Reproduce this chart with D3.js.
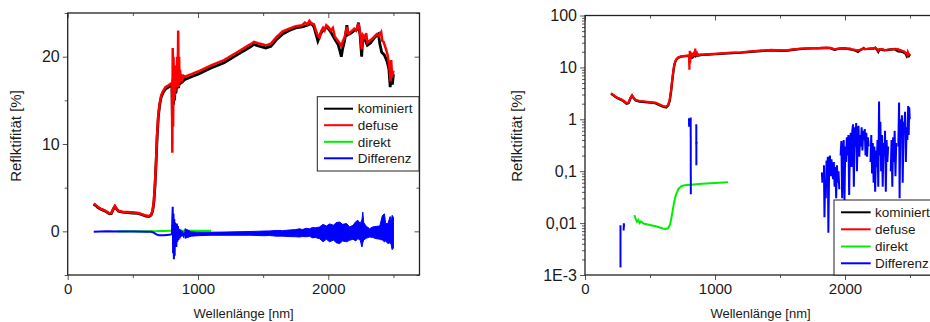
<!DOCTYPE html>
<meta charset="utf-8">
<style>
body { margin: 0; background: #fff; }
text { font-family: Arial, "Liberation Sans", sans-serif; fill: #1a1a1a; }
</style>
<body>
<svg id="chart" width="930" height="322"></svg>
<script src="https://cdn.jsdelivr.net/npm/d3@7"></script>
<script>

// ---- data ----
var seriesNames = ["kominiert", "defuse", "direkt", "Differenz"];
var seriesColors = ["#000000", "#ff0000", "#00ee00", "#0000ff"];

var xTicks = [0, 1000, 2000];
var xMinor = [500, 1500, 2500];
var linTicks = [0, 10, 20];
var linMinor = [-5, 5, 15, 25];
var logTicks = [100, 10, 1, 0.1, 0.01, 0.001];
var logLabels = ["100", "10", "1", "0,1", "0,01", "1E-3"];

// defuse [nm, %]
var defuse = [[200,3.2],[215,3.0],[230,2.8],[250,2.6],[275,2.45],[300,2.25],[320,2.05],[335,2.1],[350,2.6],[362,2.9],[375,2.6],[390,2.35],
  [420,2.25],[460,2.2],[500,2.15],[540,2.1],[570,1.95],[600,1.8],[625,1.75],[640,1.9],[652,2.4],[662,3.6],[670,5.5],[678,8],[686,11],
  [695,13.2],[705,14.6],[718,15.6],[733,16.1],[750,16.5],[771,16.7],[790,16.9],[800,17.0],[803,9.0],[806,21],[809,12],[812,20],[815,15],
  [818,18.5],[821,15.5],[824,19],[827,16],[830,18],[835,16.5],[840,20],[844,17],[848,23],[851,16.5],[855,20],[858,17],[862,18.5],[866,17.2],
  [870,18],[880,17.4],[890,17.8],[900,17.7],[950,18.0],[1000,18.3],[1100,19.0],[1200,19.6],[1300,20.5],[1400,21.4],[1430,21.7],[1470,21.5],
  [1520,21.3],[1560,21.5],[1600,22.2],[1650,22.9],[1700,23.2],[1750,23.5],[1800,23.6],[1820,23.9],[1840,23.7],[1855,24.1],[1870,23.8],
  [1890,23.7],[1905,23.0],[1920,22.4],[1933,22.2],[1945,22.9],[1960,23.3],[1972,23.0],[1985,23.6],[2000,23.4],[2020,23.0],[2035,23.3],
  [2050,22.3],[2065,22.0],[2075,21.8],[2090,21.5],[2100,21.2],[2112,21.8],[2125,22.2],[2143,23.4],[2155,22.6],[2176,22.9],[2200,23.2],
  [2214,23.0],[2232,23.8],[2245,22.6],[2256,20.9],[2265,22.5],[2280,22.2],[2291,22.7],[2300,21.6],[2325,21.9],[2342,22.1],[2360,22.4],
  [2375,22.6],[2390,22.4],[2406,22.8],[2415,21.8],[2424,21.7],[2444,20.8],[2455,20.2],[2464,19.3],[2472,18.4],[2478,17.2],[2483,19.6],
  [2490,17.6],[2500,18.4]];

// kominiert [nm, %]
var kombi = [[200,3.1],[215,2.95],[230,2.75],[250,2.55],[275,2.4],[300,2.2],[320,2.0],[335,2.05],[350,2.55],[362,2.85],[375,2.55],[390,2.3],
  [420,2.2],[460,2.15],[500,2.1],[540,2.05],[570,1.9],[600,1.75],[625,1.7],[640,1.85],[652,2.3],[662,3.4],[670,5.2],[678,7.7],[686,10.7],
  [695,13.0],[705,14.4],[718,15.4],[733,15.9],[750,16.3],[771,16.5],[790,16.7],[800,16.8],[804,12.3],[808,17.5],[812,14.5],[816,17.2],
  [820,15.0],[825,16.8],[830,15.8],[840,17.0],[850,16.4],[860,17.2],[870,17.0],[880,17.1],[900,17.4],[950,17.7],[1000,18.0],[1100,18.7],
  [1200,19.3],[1300,20.2],[1400,21.1],[1430,21.4],[1470,21.2],[1520,21.0],[1560,21.2],[1600,21.9],[1650,22.6],[1700,23.0],[1750,23.3],
  [1800,23.4],[1840,23.6],[1870,23.8],[1890,23.4],[1905,22.6],[1920,21.8],[1940,22.6],[1960,23.0],[1985,23.4],[2000,23.2],[2020,22.8],
  [2050,22.0],[2075,21.4],[2090,20.6],[2100,20.0],[2110,20.9],[2125,21.8],[2143,23.6],[2150,22.5],[2175,22.7],[2200,23.0],[2220,23.1],
  [2232,23.9],[2245,22.3],[2256,20.0],[2265,22.2],[2280,22.0],[2300,21.3],[2325,21.6],[2350,22.1],[2370,22.4],[2385,22.6],[2395,21.5],
  [2410,20.5],[2430,20.2],[2450,19.5],[2465,18.6],[2475,16.5],[2485,18.3],[2492,16.8],[2500,18.0]];

// direkt [nm, %]
var direkt = [[380,0.0142],[390,0.012],[400,0.0106],[410,0.0115],[420,0.0100],[430,0.0108],[450,0.0098],[500,0.0092],[550,0.0086],
  [600,0.0079],[620,0.0077],[640,0.0080],[655,0.0095],[668,0.014],[680,0.021],[693,0.031],[705,0.038],[720,0.046],[744,0.052],
  [780,0.054],[813,0.055],[900,0.057],[1000,0.059],[1100,0.061]];

// Differenz, linear panel: trace up to 950 nm, then mean + noise band
var diff = [[200,-0.05],[300,0],[400,-0.02],[500,-0.03],[600,-0.05],[640,-0.05],[660,-0.15],[680,-0.35],[700,-0.45],[740,-0.45],
  [780,-0.4],[800,-0.3],[803,1.5],[806,2.8],[809,-2.5],[812,2.0],[815,-3.2],[818,1.4],[821,-2.8],[824,1.0],[827,-1.6],[830,0.8],
  [834,-1.8],[838,0.9],[842,-1.2],[846,0.6],[850,-1.0],[855,0.3],[860,-0.8],[866,0.2],[872,-0.6],[880,0.0],[890,-0.5],[900,-0.2],
  [920,-0.4],[950,-0.3],[1000,-0.3],[1200,-0.25],[1400,-0.22],[1600,-0.2],[1800,-0.2],[2000,-0.2],[2200,-0.15],[2400,-0.2],[2500,-0.2]];
var bandWl = [900,950,1000,1100,1200,1300,1400,1500,1550,1600,1650,1700,1750,1780,1800,1830,1857,1880,1900,1933,1960,1985,2010,2040,
  2060,2086,2110,2140,2163,2190,2210,2227,2245,2258,2265,2272,2290,2317,2340,2368,2395,2415,2431,2440,2457,2475,2482,2490,2500];
var bandHi = [0.3,-0.05,-0.1,-0.1,-0.08,-0.05,-0.02,0.03,0.05,0.1,0.08,0.15,0.2,0.3,0.2,0.35,0.3,0.45,0.4,0.5,0.8,0.6,0.85,0.7,
  1.0,1.07,0.8,0.9,0.5,0.7,1.1,1.26,0.9,1.3,2.2,1.0,0.6,0.3,0.5,0.57,0.6,1.8,2.0,0.9,0.88,1.7,1.0,1.83,1.6];
var bandLo = [-0.8,-0.55,-0.5,-0.45,-0.45,-0.45,-0.45,-0.5,-0.48,-0.55,-0.55,-0.6,-0.62,-0.65,-0.6,-0.62,-0.57,-0.75,-0.7,-0.84,
  -1.2,-0.9,-1.2,-1.0,-1.3,-1.41,-1.1,-1.2,-1.03,-0.9,-1.1,-0.84,-1.0,-1.8,-1.3,-1.0,-0.8,-0.65,-0.7,-0.84,-0.9,-1.0,-1.2,-1.1,
  -1.4,-1.3,-1.5,-2.1,-1.9];

// Differenz, log panel: only the positive pieces show
var diffLog = [
  [[273,0.0014],[273,0.0091]],
  [[297,0.0072],[299,0.0099],[300,0.0085]],
  [[800,1.05],[801,0.72]],
  [[813,1.08],[814,0.036]],
  [[856,0.8],[857,0.13]],
  [[857,0.36],[860,0.34]],
  [[1822,0.095],[1826,0.06],[1830,0.09]],
  [[1838,0.13],[1842,0.013],[1846,0.05],[1852,0.03],[1858,0.16],[1862,0.07],[1868,0.19],[1872,0.0065],[1878,0.12],[1884,0.2],
   [1890,0.08],[1896,0.17],[1902,0.1],[1908,0.07],[1914,0.15],[1920,0.05],[1926,0.12],[1932,0.03],[1938,0.13],[1944,0.06],
   [1950,0.1],[1956,0.045]],
  [[1966,0.2],[1972,0.38],[1978,0.03],[1984,0.25],[1990,0.4],[1996,0.026],[2002,0.3],[2008,0.15],[2014,0.45],[2020,0.2],
   [2026,0.5],[2032,0.035],[2038,0.3],[2044,0.55],[2050,0.12],[2056,0.6],[2062,0.8],[2068,0.05],[2074,0.7],[2080,0.3],
   [2086,0.85],[2092,0.1],[2098,0.6],[2104,0.75],[2110,0.19],[2116,0.5],[2122,0.3],[2128,0.7],[2134,0.25],[2140,0.6],
   [2146,0.4],[2152,0.65],[2158,0.2],[2164,0.55],[2170,0.19],[2176,0.45],[2182,0.3]],
  [[2196,0.15],[2202,0.5],[2208,0.09],[2214,0.35],[2220,0.06],[2226,0.3],[2232,0.04],[2238,0.25],[2244,0.12],[2250,0.4],
   [2256,0.05],[2262,2.2],[2266,0.2],[2272,0.9],[2278,0.1],[2284,0.5],[2290,0.05],[2296,0.35],[2302,0.2],[2308,0.6],
   [2314,0.04],[2320,0.4],[2326,0.15],[2332,0.3]],
  [[2352,0.1],[2358,0.4],[2364,0.05],[2370,0.45],[2376,0.15],[2382,0.6],[2388,0.08],[2394,0.35]],
  [[2410,0.3],[2416,2.1],[2420,0.03],[2426,1.0],[2432,0.5],[2438,1.2],[2444,0.06],[2450,0.9],[2456,0.6],[2462,1.4],
   [2468,0.15],[2474,0.7],[2480,0.4],[2486,1.8],[2490,0.5],[2494,1.7],[2498,1.0]]
];

// ---- drawing ----
var svg = d3.select("#chart");

function axes(g, x, y, box, yTicks, yMinor, yFormat) {
  var ax = g.append("g").attr("class", "axes");
  function put(axis, tx, ty, size, labels, fs) {
    var a = ax.append("g").attr("transform", "translate(" + tx + "," + ty + ")")
      .call(axis.tickSize(size).tickSizeOuter(0));
    a.select(".domain").remove();
    a.selectAll("line").attr("stroke", "#555").attr("stroke-width", 1);
    if (labels) a.selectAll("text").style("font-size", fs + "px").attr("fill", "#1a1a1a");
    else a.selectAll("text").remove();
    return a;
  }
  put(d3.axisBottom(x).tickValues(xTicks).tickFormat(d3.format("d")).tickPadding(3), 0, box.y1, 5, true, 15);
  put(d3.axisBottom(x).tickValues(xMinor), 0, box.y1, 3, false);
  put(d3.axisBottom(x).tickValues(xTicks), 0, box.y0, 5, false);
  put(d3.axisBottom(x).tickValues(xMinor), 0, box.y0, 3, false);
  put(d3.axisLeft(y).tickValues(yTicks).tickFormat(yFormat).tickPadding(3), box.x0, 0, 5, true, 16);
  put(d3.axisLeft(y).tickValues(yMinor), box.x0, 0, 3, false);
  put(d3.axisRight(y).tickValues(yTicks), box.x1, 0, -5, false);
  put(d3.axisRight(y).tickValues(yMinor), box.x1, 0, -3, false);
  ax.append("rect")
    .attr("x", box.x0).attr("y", box.y0)
    .attr("width", box.x1 - box.x0).attr("height", box.y1 - box.y0)
    .attr("fill", "none").attr("stroke", "#222").attr("stroke-width", 1.3);
}

function titles(g, box, yMid, yX) {
  g.append("text")
    .attr("x", (box.x0 + box.x1) / 2).attr("y", 318)
    .attr("text-anchor", "middle").style("font-size", "13px")
    .text("Wellenl\u00e4nge [nm]");
  g.append("text")
    .attr("transform", "translate(" + yX + "," + yMid + ") rotate(-90)")
    .attr("text-anchor", "middle").style("font-size", "15px")
    .text("Reflktifit\u00e4t [%]");
}

function legend(g, lx, ly, w, h, rowY, lineX0, lineX1, textX) {
  var lg = g.append("g").attr("class", "legend");
  lg.append("rect").attr("x", lx).attr("y", ly).attr("width", w).attr("height", h)
    .attr("fill", "#fff").attr("stroke", "#222").attr("stroke-width", 1);
  seriesNames.forEach(function (name, i) {
    lg.append("line").attr("x1", lineX0).attr("x2", lineX1)
      .attr("y1", rowY[i]).attr("y2", rowY[i])
      .attr("stroke", seriesColors[i]).attr("stroke-width", 2);
    lg.append("text").attr("x", textX).attr("y", rowY[i]).attr("dy", "0.35em")
      .style("font-size", "13.5px").text(name);
  });
}

// left panel, linear
var boxL = {x0: 67.7, x1: 419.5, y0: 13, y1: 275};
var xL = d3.scaleLinear().domain([0, 2700]).range([boxL.x0, boxL.x1]);
var yL = d3.scaleLinear().domain([-5, 25]).range([boxL.y1, boxL.y0]);
var gL = svg.append("g");
gL.append("clipPath").attr("id", "clipL").append("rect")
  .attr("x", boxL.x0).attr("y", boxL.y0).attr("width", boxL.x1 - boxL.x0).attr("height", boxL.y1 - boxL.y0);
var pL = gL.append("g").attr("clip-path", "url(#clipL)");
var lineL = d3.line().x(function (d) { return xL(d[0]); }).y(function (d) { return yL(d[1]); });

pL.append("path").datum(kombi).attr("d", lineL).attr("fill", "none").attr("stroke", seriesColors[0]).attr("stroke-width", 2.8);
pL.append("path").datum(defuse).attr("d", lineL).attr("fill", "none").attr("stroke", seriesColors[1]).attr("stroke-width", 2.5);
pL.append("path").datum(direkt).attr("d", lineL).attr("fill", "none").attr("stroke", seriesColors[2]).attr("stroke-width", 2);
pL.append("path").datum(bandWl)
  .attr("d", d3.area().x(function (d) { return xL(d); })
    .y0(function (d, i) { return yL(bandLo[i]); }).y1(function (d, i) { return yL(bandHi[i]); }))
  .attr("fill", seriesColors[3]).attr("stroke", seriesColors[3]).attr("stroke-width", 1);
pL.append("path").datum(diff).attr("d", lineL).attr("fill", "none").attr("stroke", seriesColors[3]).attr("stroke-width", 2);

axes(gL, xL, yL, boxL, linTicks, linMinor, d3.format("d"));
titles(gL, boxL, 136, 21);
legend(gL, 317.3, 96.7, 101.7, 74.3, [108.7, 125.2, 141.8, 158.3], 324, 353, 357.7);

// right panel, log
var boxR = {x0: 585, x1: 936, y0: 15.5, y1: 275};
var xR = d3.scaleLinear().domain([0, 2700]).range([boxR.x0, boxR.x1]);
var yR = d3.scaleLog().domain([0.001, 100]).range([boxR.y1, boxR.y0]);
var logMinor = [];
[0.001, 0.01, 0.1, 1, 10].forEach(function (dec) {
  for (var k = 2; k <= 9; k++) logMinor.push(dec * k);
});
var gR = svg.append("g");
gR.append("clipPath").attr("id", "clipR").append("rect")
  .attr("x", boxR.x0).attr("y", boxR.y0).attr("width", boxR.x1 - boxR.x0).attr("height", boxR.y1 - boxR.y0);
var pR = gR.append("g").attr("clip-path", "url(#clipR)");
var lineR = d3.line().x(function (d) { return xR(d[0]); }).y(function (d) { return yR(d[1]); });

pR.append("path").datum(kombi).attr("d", lineR).attr("fill", "none").attr("stroke", seriesColors[0]).attr("stroke-width", 2.4);
pR.append("path").datum(defuse).attr("d", lineR).attr("fill", "none").attr("stroke", seriesColors[1]).attr("stroke-width", 2.2);
pR.append("path").datum(direkt).attr("d", lineR).attr("fill", "none").attr("stroke", seriesColors[2]).attr("stroke-width", 2);
pR.selectAll("path.dlog").data(diffLog).enter().append("path").attr("class", "dlog")
  .attr("d", lineR).attr("fill", "none").attr("stroke", seriesColors[3]).attr("stroke-width", 2);

axes(gR, xR, yR, boxR, logTicks, logMinor, function (d, i) { return logLabels[i]; });
titles(gR, boxR, 136, 522);
legend(gR, 834, 200, 110, 75, [212.3, 229.3, 246.5, 263.3], 841, 870.7, 875);

</script>
</body>
